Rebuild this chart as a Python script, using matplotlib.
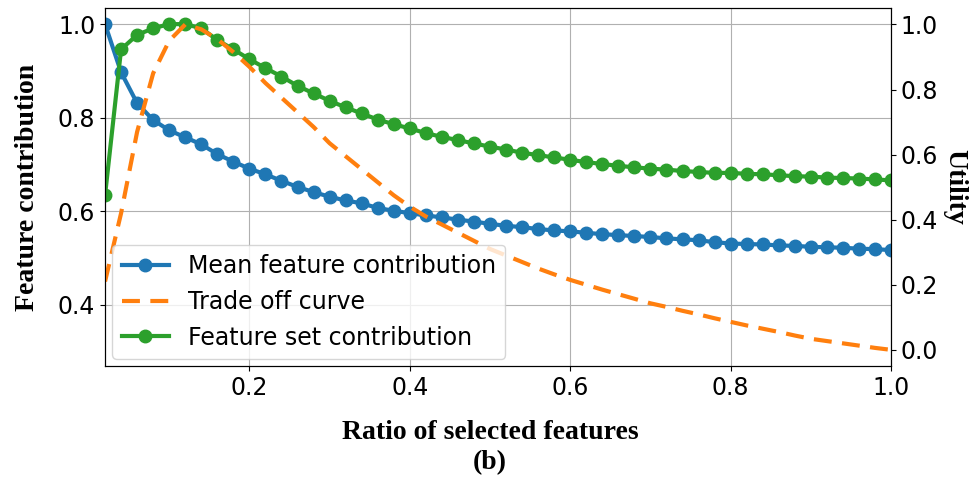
import numpy as np
import matplotlib
matplotlib.use('Agg')
import matplotlib.pyplot as plt

ratio = np.round(np.arange(1, 51) * 0.02, 2)

mean_contrib = [1.0, 0.897, 0.831, 0.795, 0.773, 0.758, 0.743, 0.722, 0.706, 0.691,
                0.679, 0.665, 0.652, 0.641, 0.631, 0.623, 0.617, 0.607, 0.601, 0.596,
                0.591, 0.587, 0.582, 0.578, 0.573, 0.569, 0.566, 0.562, 0.559, 0.557,
                0.554, 0.551, 0.549, 0.547, 0.545, 0.542, 0.540, 0.538, 0.534, 0.531,
                0.530, 0.529, 0.527, 0.526, 0.524, 0.523, 0.522, 0.520, 0.519, 0.517]

set_contrib = [0.634, 0.946, 0.977, 0.991, 1.0, 1.0, 0.991, 0.966, 0.946, 0.925,
               0.906, 0.888, 0.868, 0.852, 0.836, 0.822, 0.809, 0.796, 0.786, 0.777,
               0.767, 0.759, 0.752, 0.745, 0.738, 0.732, 0.725, 0.720, 0.715, 0.710,
               0.705, 0.701, 0.697, 0.694, 0.691, 0.689, 0.686, 0.684, 0.682, 0.682,
               0.680, 0.679, 0.677, 0.675, 0.674, 0.672, 0.671, 0.670, 0.668, 0.666]

tradeoff = [0.21, 0.42, 0.67, 0.85, 0.95, 1.0, 0.985, 0.955, 0.915, 0.87,
            0.82, 0.775, 0.73, 0.685, 0.635, 0.595, 0.555, 0.515, 0.475, 0.44,
            0.41, 0.385, 0.36, 0.335, 0.31, 0.29, 0.27, 0.25, 0.232, 0.215,
            0.2, 0.185, 0.171, 0.157, 0.143, 0.132, 0.12, 0.109, 0.097, 0.086,
            0.075, 0.065, 0.055, 0.044, 0.034, 0.027, 0.02, 0.013, 0.006, 0.0]

label_font = {'family': 'Liberation Serif', 'weight': 'bold', 'size': 20}

fig = plt.figure(figsize=(9.78, 4.83), dpi=100)
ax = fig.add_axes([0.1074, 0.242, 0.8037, 0.741])
ax2 = ax.twinx()

l1, = ax.plot(ratio, mean_contrib, '-o', color='tab:blue', lw=3, ms=9,
              label='Mean feature contribution')
l3, = ax.plot(ratio, set_contrib, '-o', color='tab:green', lw=3, ms=9,
              label='Feature set contribution')
l2, = ax2.plot(ratio, tradeoff, '--', color='tab:orange', lw=3, dashes=(4.3, 2.5),
               label='Trade off curve')

ax.set_xlim(0.02, 1.0)
ax.set_ylim(0.269, 1.034)
ax2.set_ylim(-0.05, 1.05)
ax.set_xticks([0.2, 0.4, 0.6, 0.8, 1.0])
ax.set_yticks([0.4, 0.6, 0.8, 1.0])
ax2.set_yticks([0.0, 0.2, 0.4, 0.6, 0.8, 1.0])
ax.grid(True)
ax.tick_params(labelsize=17)
ax2.tick_params(labelsize=17)

ax.set_xlabel('Ratio of selected features\n(b)', fontdict=label_font,
              linespacing=1.3)
ax.xaxis.set_label_coords(0.49, -0.15, transform=ax.transAxes)
ax.xaxis.label.set_va('top')
ax.set_ylabel('Feature contribution', fontdict=label_font, labelpad=13)
ax2.set_ylabel('Utility', fontdict=label_font, rotation=270, labelpad=21)

ax2.legend([l1, l2, l3], [l1.get_label(), l2.get_label(), l3.get_label()],
           loc='lower left', fontsize=17, borderaxespad=0.3)

fig.savefig('out.png', dpi=100)
